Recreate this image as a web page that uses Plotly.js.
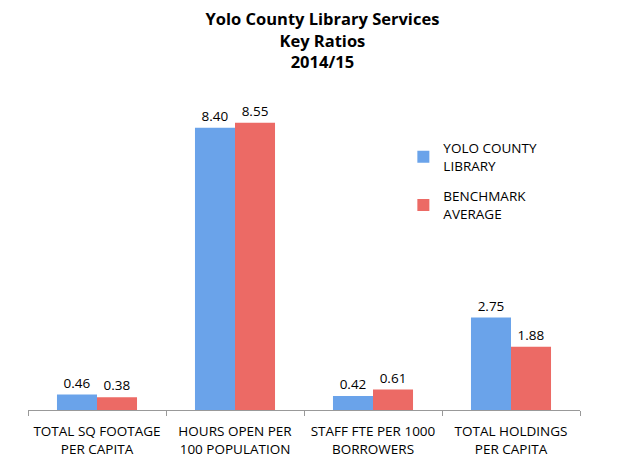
<!DOCTYPE html>
<html><head><meta charset="utf-8">
<script src="https://cdn.plot.ly/plotly-3.0.1.min.js"></script>
<style>body{margin:0;background:#fff}</style>
</head><body><div id="chart" style="width:626px;height:458px"></div>
<script>
const categories = ["TOTAL SQ FOOTAGE<br>PER CAPITA","HOURS OPEN PER<br>100 POPULATION","STAFF FTE PER 1000<br>BORROWERS","TOTAL HOLDINGS<br>PER CAPITA"];
const yoloValues = [0.46, 8.40, 0.42, 2.75];
const benchmarkValues = [0.38, 8.55, 0.61, 1.88];
const seriesNames = ["YOLO COUNTY<br>LIBRARY", "BENCHMARK<br>AVERAGE"];

const fontFam = "Open Sans, Liberation Sans, sans-serif";
const traces = [
  {type:'bar', x:categories, y:yoloValues, name:seriesNames[0], legendgroup:'g1',
   marker:{color:'#6aa3ea'}, text:yoloValues.map(v=>v.toFixed(2)), textposition:'outside',
   textfont:{size:13.5,color:'#000',family:fontFam}, cliponaxis:false},
  {type:'bar', x:categories, y:benchmarkValues, name:seriesNames[1], legendgroup:'g2',
   marker:{color:'#ec6a65'}, text:benchmarkValues.map(v=>v.toFixed(2)), textposition:'outside',
   textfont:{size:13.5,color:'#000',family:fontFam}, cliponaxis:false}
];
const layout = {
  width:626, height:458,
  margin:{l:28, r:46, t:74, b:48},
  paper_bgcolor:'#fff', plot_bgcolor:'#fff',
  font:{family:fontFam, color:'#000'},
  title:{text:'<b>Yolo County Library Services<br>Key Ratios<br>2014/15</b>', x:0.515, xanchor:'center', y:0.945, yanchor:'top', font:{size:16.5, family:fontFam}},
  barmode:'group', bargap:0.42, bargroupgap:0,
  xaxis:{showline:true, linecolor:'#999', linewidth:1, ticks:'outside', tickcolor:'#999', ticklen:5,
    tickson:'boundaries', ticklabelstandoff:9, tickfont:{size:13.5, family:fontFam}, showgrid:false, fixedrange:true},
  yaxis:{range:[0,10], visible:false, showgrid:false, zeroline:false, fixedrange:true},
  legend:{x:0.68, y:0.825, xanchor:'left', yanchor:'top', font:{size:13.5, family:fontFam}, tracegroupgap:10, itemwidth:30, bgcolor:'rgba(0,0,0,0)'},
  showlegend:true
};
Plotly.newPlot('chart', traces, layout, {displayModeBar:false, staticPlot:true});
</script></body></html>
